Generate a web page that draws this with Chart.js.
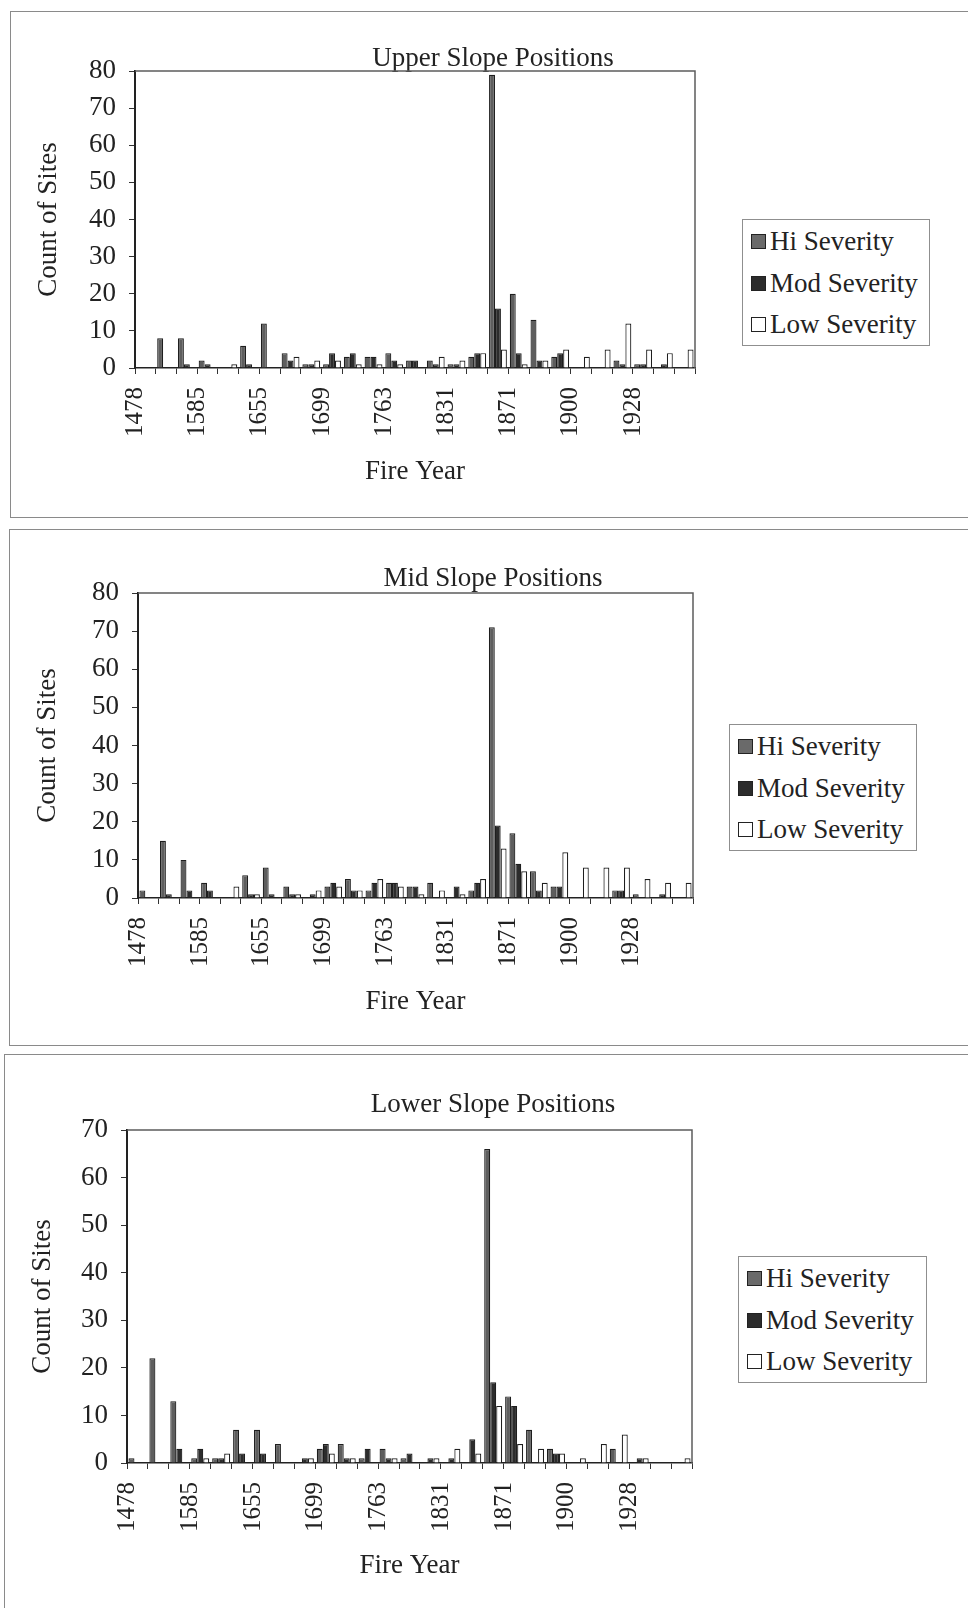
<!DOCTYPE html>
<html><head><meta charset="utf-8">
<script src="https://cdn.jsdelivr.net/npm/chart.js@4.4.1/dist/chart.umd.min.js"></script>
<style>
html,body{margin:0;padding:0;background:#fff;width:968px;height:1608px;overflow:hidden;position:relative;}
.panel{position:absolute;border:1.5px solid #8a8a8a;border-right:none;box-sizing:border-box;}
canvas{position:absolute;left:0;}
.legend{position:absolute;border:1px solid #8f8f8f;box-sizing:border-box;background:#fff;font-family:'Liberation Serif',serif;font-size:27px;color:#222;padding-top:1px;}
.legend .item{height:41.5px;line-height:41.5px;white-space:nowrap;padding-left:8px;}
.legend .sw{display:inline-block;width:15px;height:15px;border:1px solid #222;box-sizing:border-box;margin-right:4px;vertical-align:middle;position:relative;top:-2px;}
</style></head><body>
<div class="panel" style="left:10px;top:11px;width:980px;height:507px;"></div>
<div class="panel" style="left:9px;top:529px;width:980px;height:517px;"></div>
<div class="panel" style="left:4px;top:1054px;width:980px;height:600px;"></div>
<canvas id="c1"></canvas>
<canvas id="c2"></canvas>
<canvas id="c3"></canvas>
<div class="legend" id="lg1" style="left:742px;top:219px;width:188px;height:127px;"></div>
<div class="legend" id="lg2" style="left:729px;top:724px;width:188px;height:127px;"></div>
<div class="legend" id="lg3" style="left:738px;top:1256px;width:189px;height:127px;"></div>
<script>
// ---- data ----
const fireYears = ['1478','','','1585','','','1655','','','1699','','','1763','','','1831','','','1871','','','1900','','','1928','',''];
const seriesNames = ['Hi Severity','Mod Severity','Low Severity'];
const chartTitles = ['Upper Slope Positions','Mid Slope Positions','Lower Slope Positions'];

const upperHi  = [0,8,8,2,0,6,12,4,1,1,3,3,4,2,2,1,3,79,20,13,3,0,0,2,1,0,0];
const upperMod = [0,0,1,1,0,1,0,2,1,4,4,3,2,2,1,1,4,16,4,2,4,0,0,1,1,1,0];
const upperLow = [0,0,0,0,1,0,0,3,2,2,1,1,1,0,3,2,4,5,1,2,5,3,5,12,5,4,5];

const midHi  = [2,15,10,4,0,6,8,3,0,3,5,2,4,3,4,0,2,71,17,7,3,0,0,2,1,0,0];
const midMod = [0,1,2,2,0,1,1,1,1,4,2,4,4,3,0,3,4,19,9,2,3,0,0,2,0,1,0];
const midLow = [0,0,0,0,3,1,0,1,2,3,2,5,3,1,2,1,5,13,7,4,12,8,8,8,5,4,4];

const lowerHi  = [1,22,13,1,1,7,7,4,0,3,4,1,3,1,0,0,0,66,14,7,3,0,0,3,0,0,0];
const lowerMod = [0,0,3,3,1,2,2,0,1,4,1,3,1,2,1,1,5,17,12,0,2,0,0,0,1,0,0];
const lowerLow = [0,0,0,1,2,0,0,0,1,2,1,0,1,0,1,3,2,12,4,3,2,1,4,6,1,0,1];

const yMaxes = [80, 80, 70];

// ---- styles ----
const FONT = "'Liberation Serif', serif";
const TXT = '#222';
const FS = 27;
const fills = ['#5e5e5e', '#2c2c2c', '#ffffff'];
const edge = '#1e1e1e';

const frame = {
  id: 'frame',
  afterDatasetsDraw(chart) {
    const {ctx, chartArea: a} = chart;
    ctx.save();
    ctx.strokeStyle = '#5c5c5c';
    ctx.lineWidth = 1.5;
    ctx.beginPath();
    ctx.moveTo(a.left, a.top);
    ctx.lineTo(a.right, a.top);
    ctx.lineTo(a.right, a.bottom);
    ctx.stroke();
    ctx.restore();
  }
};

function makeChart(id, idx, hi, mod, low, L) {
  const cv = document.getElementById(id);
  const W = 986;
  cv.width = W; cv.height = L.ch;
  cv.style.width = W + 'px'; cv.style.height = L.ch + 'px';
  cv.style.top = L.ctop + 'px';
  const xh = 130;
  const vals = [hi, mod, low];
  const half = FS * 1.2 / 2;
  new Chart(cv, {
    type: 'bar',
    data: {
      labels: fireYears,
      datasets: seriesNames.map((n, i) => ({
        label: n,
        data: vals[i],
        backgroundColor: fills[i],
        borderColor: edge,
        borderWidth: 1.2,
        borderSkipped: 'start',
        categoryPercentage: 0.86,
        barPercentage: 1.0
      }))
    },
    options: {
      responsive: false,
      animation: false,
      devicePixelRatio: 1,
      layout: {padding: {left: 0, top: 0, right: 0, bottom: L.ch - (L.b - L.ctop) - xh}},
      plugins: {
        legend: {display: false},
        tooltip: {enabled: false},
        title: {
          display: true,
          text: chartTitles[idx],
          color: TXT,
          font: {family: FONT, size: FS, weight: 'normal', lineHeight: 1},
          padding: {top: L.titleY - L.ctop - FS / 2, bottom: L.t - L.titleY - FS / 2}
        }
      },
      scales: {
        x: {
          type: 'category',
          offset: true,
          grid: {display: true, drawOnChartArea: false, drawTicks: true, tickLength: 6, color: '#333', offset: true},
          border: {display: true, color: '#222', width: 1.5},
          ticks: {
            autoSkip: false, minRotation: 90, maxRotation: 90,
            padding: 13, labelOffset: -10,
            color: TXT, font: {family: FONT, size: 25}
          },
          title: {
            display: true, text: 'Fire Year', color: TXT,
            font: {family: FONT, size: FS, lineHeight: 1.2},
            padding: {top: 0, bottom: L.b + xh - half - L.xTitleY}
          },
          afterFit(s) { s.height = xh; }
        },
        y: {
          type: 'linear', position: 'left',
          min: 0, max: yMaxes[idx],
          ticks: {stepSize: 10, padding: 13, color: TXT, font: {family: FONT, size: FS}},
          grid: {display: true, drawOnChartArea: false, drawTicks: true, tickLength: 6, color: '#333'},
          border: {display: true, color: '#222', width: 2},
          title: {
            display: true, text: 'Count of Sites', color: TXT,
            font: {family: FONT, size: FS, lineHeight: 1.2},
            padding: {top: L.yTitleX - half, bottom: 0}
          },
          afterFit(s) { s.width = L.l; }
        },
        pad: {
          type: 'linear', position: 'right', display: true,
          grid: {display: false}, border: {display: false}, ticks: {display: false},
          afterFit(s) { s.width = W - L.r; }
        }
      }
    },
    plugins: [frame]
  });
}

function makeLegend(id) {
  const el = document.getElementById(id);
  seriesNames.forEach((n, i) => {
    const it = document.createElement('div');
    it.className = 'item';
    const sw = document.createElement('span');
    sw.className = 'sw';
    sw.style.background = i === 0 ? '#6a6a6a' : fills[i];
    it.appendChild(sw);
    it.appendChild(document.createTextNode(n));
    el.appendChild(it);
  });
}

makeChart('c1', 0, upperHi, upperMod, upperLow, {ctop: 0, ch: 520, l: 135, t: 71, r: 695, b: 368, titleY: 58.5, yTitleX: 49, xTitleY: 472});
makeChart('c2', 1, midHi, midMod, midLow, {ctop: 525, ch: 515, l: 138, t: 593, r: 693, b: 898, titleY: 579, yTitleX: 48, xTitleY: 1002});
makeChart('c3', 2, lowerHi, lowerMod, lowerLow, {ctop: 1050, ch: 558, l: 127, t: 1130, r: 692, b: 1463, titleY: 1105, yTitleX: 43, xTitleY: 1566});
makeLegend('lg1'); makeLegend('lg2'); makeLegend('lg3');
</script>
</body></html>
